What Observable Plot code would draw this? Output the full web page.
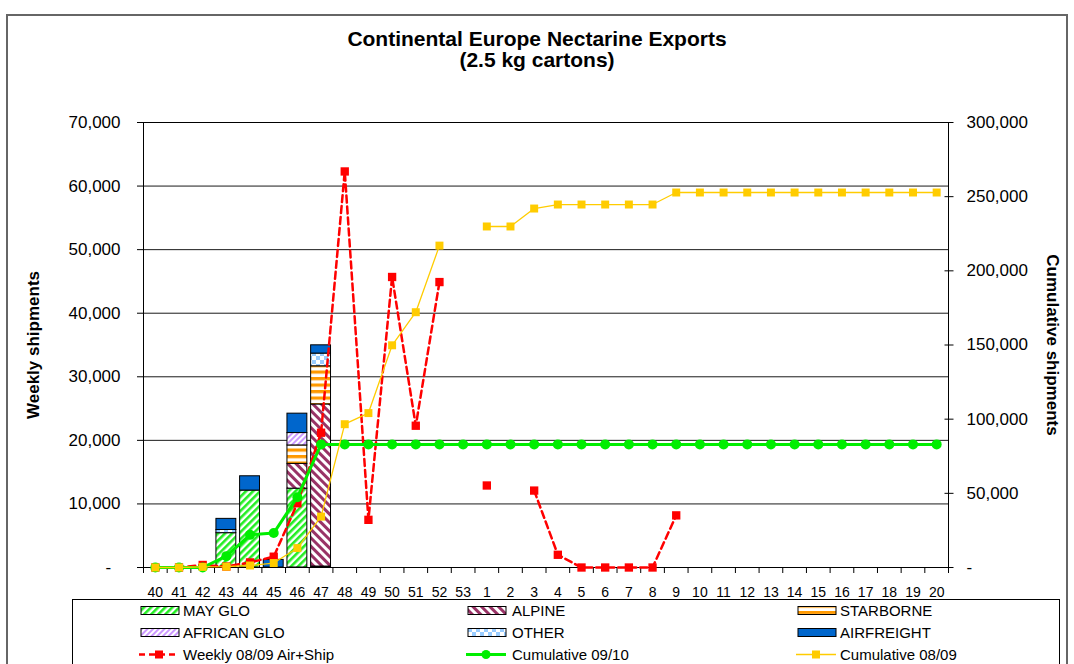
<!DOCTYPE html>
<html>
<head>
<meta charset="utf-8">
<script src="https://cdn.jsdelivr.net/npm/d3@7"></script>
<script src="https://cdn.jsdelivr.net/npm/@observablehq/plot@0.6"></script>
<style>
  body { margin: 0; background: #fff; font-family: "Liberation Sans", Arial, sans-serif; }
  #wrap { position: relative; width: 1074px; height: 664px; overflow: hidden; background: #fff; }
  #chart, #legend { position: absolute; left: 0; top: 0; }
  #frame { position: absolute; left: 6px; top: 14px; width: 1062px; height: 700px; border: 2px solid #666; box-sizing: border-box; }
  #title { position: absolute; left: 0; top: 28px; width: 1074px; text-align: center; font-weight: bold; font-size: 21px; line-height: 21px; color: #000; }
</style>
</head>
<body>
<svg width="0" height="0" style="position:absolute">
  <defs>
    <pattern id="pMay" patternUnits="userSpaceOnUse" width="5" height="5" patternTransform="rotate(45)">
      <rect width="5" height="5" fill="#fff"/><rect width="2.6" height="5" fill="#22ee22"/>
    </pattern>
    <pattern id="pAlp" patternUnits="userSpaceOnUse" width="6" height="6" patternTransform="rotate(-45)">
      <rect width="6" height="6" fill="#fff"/><rect width="3" height="6" fill="#993366"/>
    </pattern>
    <pattern id="pStar" patternUnits="userSpaceOnUse" width="6" height="6.5">
      <rect width="6" height="6.5" fill="#fff"/><rect width="6" height="3.2" fill="#ff9900"/>
    </pattern>
    <pattern id="pAfr" patternUnits="userSpaceOnUse" width="4" height="4" patternTransform="rotate(45)">
      <rect width="4" height="4" fill="#fff"/><rect width="2" height="4" fill="#cc99ff"/>
    </pattern>
    <pattern id="pOth" patternUnits="userSpaceOnUse" width="8" height="8">
      <rect width="8" height="8" fill="#fff"/><rect width="4" height="4" fill="#99ccff"/><rect x="4" y="4" width="4" height="4" fill="#99ccff"/>
    </pattern>
    <pattern id="pAir" patternUnits="userSpaceOnUse" width="4" height="4">
      <rect width="4" height="4" fill="#0066cc"/>
    </pattern>
  </defs>
</svg>
<div id="wrap">
  <div id="chart"></div>
  <svg id="legend" width="1074" height="664"></svg>
  <div id="title">Continental Europe Nectarine Exports<br>(2.5 kg cartons)</div>
  <div id="frame"></div>
</div>
<script>
// ---- data ----
const weeks = ["40","41","42","43","44","45","46","47","48","49","50","51","52","53",
  "1","2","3","4","5","6","7","8","9","10","11","12","13","14","15","16","17","18","19","20"];

const barWeeks = ["40","41","42","43","44","45","46","47"];
const seriesNames = ["MAY GLO","ALPINE","STARBORNE","AFRICAN GLO","OTHER","AIRFREIGHT"];
const mayGlo     = [0, 0, 0, 5400, 12100, 0, 12400, 150];
const alpine     = [0, 0, 0, 0, 0, 0, 3900, 25500];
const starborne  = [0, 0, 0, 0, 0, 0, 2900, 6000];
const africanGlo = [0, 0, 0, 0, 0, 0, 1950, 0];
const other      = [0, 0, 0, 500, 0, 0, 0, 2000];
const airfreight = [0, 0, 0, 1750, 2250, 1200, 3050, 1300];

const weekly0809 = [0, 0, 400, 150, 800, 1700, 10100, 21200, 62300, 7500, 45700, 22300, 44900, null,
  12900, null, 12100, 2000, 0, 0, 0, 0, 8200, null, null, null, null, null, null, null, null, null, null, null];
const cum0910 = [0, 0, 0, 7650, 22000, 23200, 47400, 83000, 83000, 83000, 83000, 83000, 83000, 83000,
  83000, 83000, 83000, 83000, 83000, 83000, 83000, 83000, 83000, 83000, 83000, 83000, 83000, 83000, 83000, 83000, 83000, 83000, 83000, 83000];
const cum0809 = [0, 0, 400, 550, 1350, 3000, 13100, 34300, 96600, 104100, 149800, 172100, 217000, null,
  229900, 229900, 242000, 244700, 244700, 244700, 244700, 244700, 252800, 252800, 252800, 252800, 252800, 252800, 252800, 252800, 252800, 252800, 252800, 252800];

const leftTicks = [0, 10000, 20000, 30000, 40000, 50000, 60000, 70000];
const rightTicks = [0, 50000, 100000, 150000, 200000, 250000, 300000];
const leftMax = 70000, rightMax = 300000;

// ---- build tables ----
const seriesValues = [mayGlo, alpine, starborne, africanGlo, other, airfreight];
const patterns = ["url(#pMay)","url(#pAlp)","url(#pStar)","url(#pAfr)","url(#pOth)","url(#pAir)"];
const stacked = [];
seriesNames.forEach((s, k) => barWeeks.forEach((w, i) => {
  if (seriesValues[k][i] > 0) stacked.push({week: w, series: s, value: seriesValues[k][i]});
}));
const toRight = v => v == null ? null : v * leftMax / rightMax;
const weeklyData = weeks.map((w, i) => ({week: w, value: weekly0809[i]}));
const c0910 = weeks.map((w, i) => ({week: w, value: toRight(cum0910[i])}));
const c0809 = weeks.map((w, i) => ({week: w, value: toRight(cum0809[i])}));

const W = 1074, H = 664, mL = 143, mR = 126, mT = 122, mB = 97;
const step = (W - mL - mR) / weeks.length;
const fmt = d3.format(",");
const FONT = '"Liberation Sans", Arial, sans-serif';

const chart = Plot.plot({
  width: W, height: H,
  marginLeft: mL, marginRight: mR, marginTop: mT, marginBottom: mB,
  style: {fontFamily: FONT, fontSize: "17px", color: "#000", background: "transparent", overflow: "visible"},
  x: {type: "band", domain: weeks, paddingInner: 0.16, paddingOuter: 0.08, round: false, label: null},
  y: {domain: [0, leftMax], label: null},
  color: {type: "ordinal", domain: seriesNames, range: patterns},
  marks: [
    Plot.gridY(leftTicks, {stroke: "#000", strokeOpacity: 0.9, strokeWidth: 1}),
    Plot.barY(stacked, {x: "week", y: "value", z: "series", fill: "series", order: seriesNames, stroke: "#000", strokeWidth: 1}),
    Plot.frame({stroke: "#000", strokeWidth: 1}),
    Plot.axisY(leftTicks, {anchor: "left", tickSize: 6, tickPadding: 17, fontSize: 17, label: null,
      tickFormat: d => d === 0 ? "-\u00a0\u00a0" : fmt(d)}),
    Plot.axisY(rightTicks.map(toRight), {anchor: "right", tickSize: 9, dx: -4.5, tickPadding: 13.5, fontSize: 17, label: null,
      tickFormat: d => { const v = Math.round(d * rightMax / leftMax); return v === 0 ? "-" : fmt(v); }}),
    Plot.axisX(weeks, {anchor: "bottom", tickSize: 6, dx: -step / 2, fill: "none", label: null}),
    Plot.axisX([weeks[weeks.length - 1]], {anchor: "bottom", tickSize: 6, dx: step / 2, fill: "none", label: null}),
    Plot.axisX(weeks, {anchor: "bottom", tickSize: 0, tickPadding: 20, fontSize: 14, label: null}),
    Plot.line(weeklyData, {x: "week", y: "value", stroke: "#ff0000", strokeWidth: 2.5, strokeDasharray: "7,4"}),
    Plot.dot(weeklyData, {x: "week", y: "value", symbol: "square", r: 4.7, fill: "#ff0000", stroke: null}),
    Plot.line(c0910, {x: "week", y: "value", stroke: "#00ee00", strokeWidth: 3}),
    Plot.dot(c0910, {x: "week", y: "value", symbol: "circle", r: 5, fill: "#00ee00", stroke: null}),
    Plot.line(c0809, {x: "week", y: "value", stroke: "#ffcc00", strokeWidth: 1.3}),
    Plot.dot(c0809, {x: "week", y: "value", symbol: "square", r: 4.5, fill: "#ffcc00", stroke: null}),
    Plot.text(["Weekly shipments"], {text: d => d, frameAnchor: "left", textAnchor: "middle", dx: -110, rotate: -90, fontWeight: "bold", fontSize: 17}),
    Plot.text(["Cumulative shipments"], {text: d => d, frameAnchor: "right", textAnchor: "middle", dx: 104, rotate: 90, fontWeight: "bold", fontSize: 17})
  ]
});
document.getElementById("chart").appendChild(chart);

// ---- legend ----
const lg = d3.select("#legend").style("font-family", FONT);
lg.append("rect").attr("x", 72.5).attr("y", 599.5).attr("width", 987).attr("height", 100)
  .attr("fill", "none").attr("stroke", "#000").attr("stroke-width", 1);
const colSw = [141, 468, 798], colTx = [183, 512, 840], rowY = [610.5, 632.5, 654.5];
const items = [
  {label: "MAY GLO", type: "bar", fill: patterns[0]},
  {label: "ALPINE", type: "bar", fill: patterns[1]},
  {label: "STARBORNE", type: "bar", fill: patterns[2]},
  {label: "AFRICAN GLO", type: "bar", fill: patterns[3]},
  {label: "OTHER", type: "bar", fill: patterns[4]},
  {label: "AIRFREIGHT", type: "bar", fill: patterns[5]},
  {label: "Weekly 08/09 Air+Ship", type: "line", color: "#ff0000", width: 2.5, dash: "6,4", sym: "square", size: 8},
  {label: "Cumulative 09/10", type: "line", color: "#00ee00", width: 3, dash: null, sym: "circle", size: 9},
  {label: "Cumulative 08/09", type: "line", color: "#ffcc00", width: 1.3, dash: null, sym: "square", size: 8}
];
items.forEach((it, i) => {
  const c = i % 3, r = Math.floor(i / 3);
  const x = colSw[c], y = rowY[r];
  const g = lg.append("g");
  if (it.type === "bar") {
    g.append("rect").attr("x", x).attr("y", y - 4).attr("width", 38).attr("height", 8)
      .attr("fill", it.fill).attr("stroke", "#000").attr("stroke-width", 1);
  } else {
    g.append("line").attr("x1", x - 2).attr("x2", x + 38).attr("y1", y).attr("y2", y)
      .attr("stroke", it.color).attr("stroke-width", it.width).attr("stroke-dasharray", it.dash);
    if (it.sym === "square") {
      g.append("rect").attr("x", x + 18 - it.size / 2).attr("y", y - it.size / 2)
        .attr("width", it.size).attr("height", it.size).attr("fill", it.color);
    } else {
      g.append("circle").attr("cx", x + 18).attr("cy", y).attr("r", it.size / 2).attr("fill", it.color);
    }
  }
  g.append("text").attr("x", colTx[c]).attr("y", y).attr("dy", "0.36em")
    .attr("font-size", 15).attr("fill", "#000").text(it.label);
});
</script>
</body>
</html>
